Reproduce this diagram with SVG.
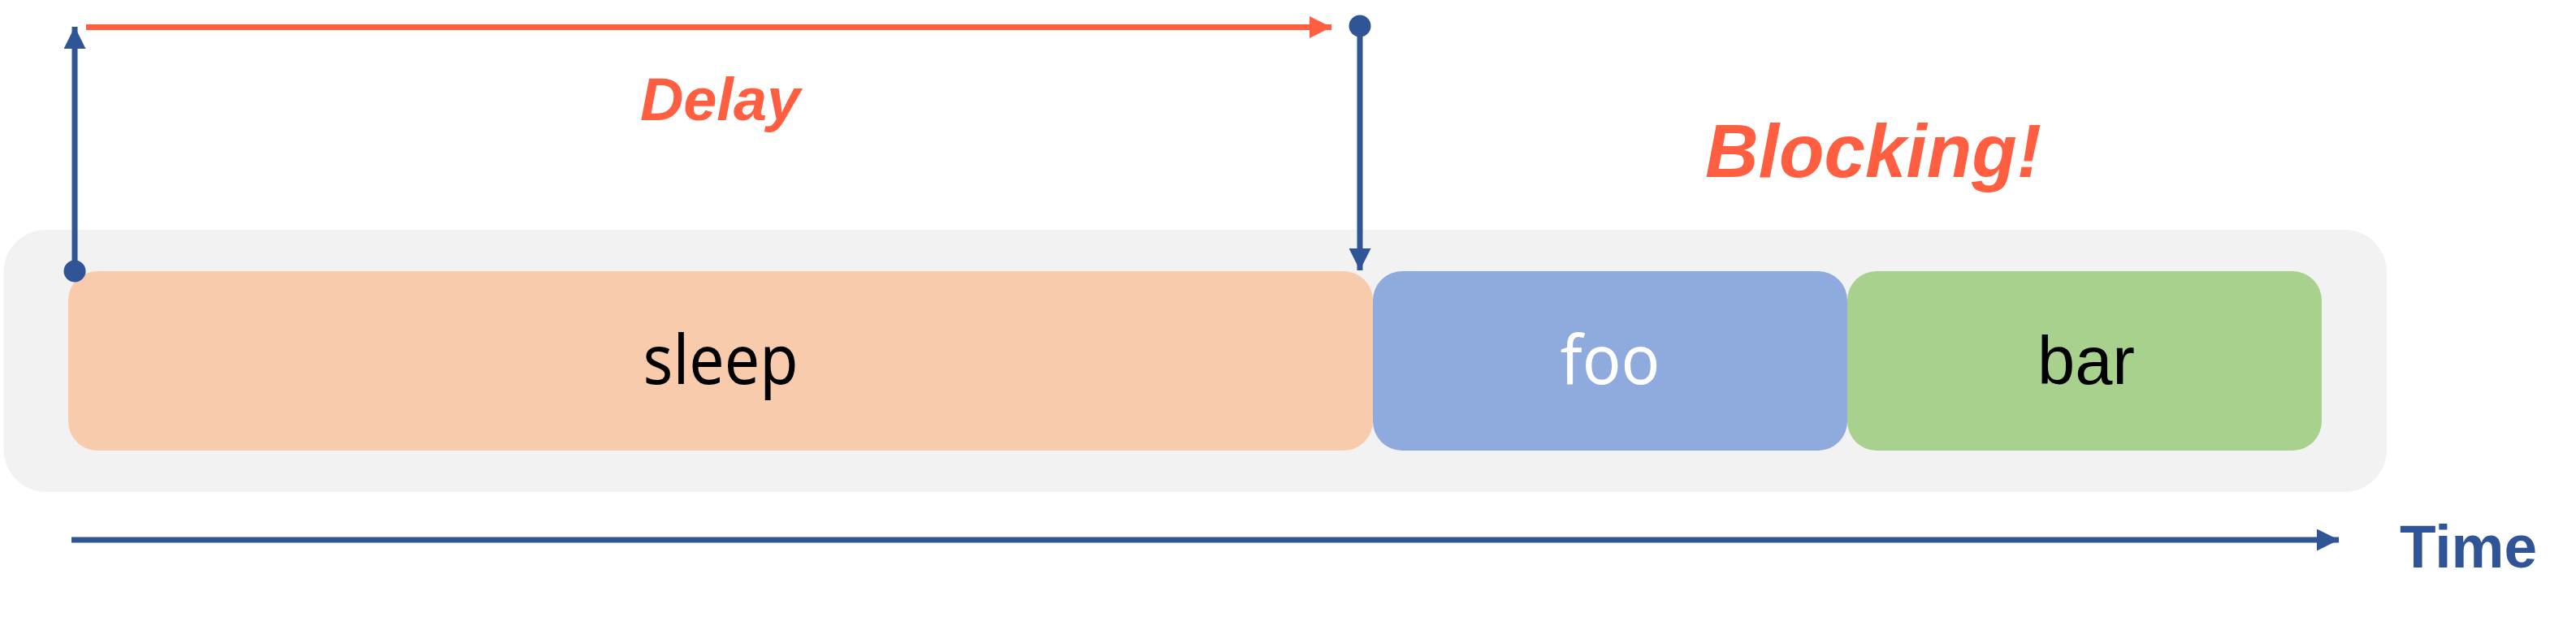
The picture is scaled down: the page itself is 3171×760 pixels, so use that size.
<svg xmlns="http://www.w3.org/2000/svg" width="3171" height="760" viewBox="0 0 3171 760">
<style>
.lbl{font-family:"Noto Sans","Open Sans","Liberation Sans",sans-serif;font-size:84px;text-anchor:middle}
.hl{font-family:"Liberation Sans",Arial,sans-serif;font-weight:bold;font-style:italic;fill:#FF5F40}
.blue{stroke:#2F5597;stroke-width:7;fill:none}
.red{stroke:#FF5F40;stroke-width:7;fill:none}
</style>
<defs>
<marker id="ab" markerUnits="userSpaceOnUse" markerWidth="27" markerHeight="27" viewBox="0 0 27 27" refX="27" refY="13.5" orient="auto"><path d="M0,0 L27,13.5 L0,27 Z" fill="#2F5597"/></marker>
<marker id="ar" markerUnits="userSpaceOnUse" markerWidth="27" markerHeight="27" viewBox="0 0 27 27" refX="27" refY="13.5" orient="auto"><path d="M0,0 L27,13.5 L0,27 Z" fill="#FF5F40"/></marker>
<marker id="dot" markerUnits="userSpaceOnUse" markerWidth="28" markerHeight="28" viewBox="0 0 28 28" refX="14" refY="14"><circle cx="14" cy="14" r="13.5" fill="#2F5597"/></marker>
</defs>
<rect width="3171" height="760" fill="#fff"/>
<g id="background"><rect x="4.5" y="283" width="2933.5" height="323" rx="52" fill="#F2F2F2"/></g>
<g id="sleep"><rect x="84" y="334" width="1606" height="221" rx="36" fill="#F8CBAD"/><text class="lbl" x="887" y="473" fill="#000" textLength="191" lengthAdjust="spacingAndGlyphs">sleep</text></g>
<g id="foo"><rect x="1690" y="334" width="584" height="221" rx="36" fill="#8FAADC"/><text class="lbl" x="1982" y="473" fill="#fff" textLength="123" lengthAdjust="spacingAndGlyphs">foo</text></g>
<g id="bar"><rect x="2274" y="334" width="584" height="221" rx="36" fill="#A9D18E"/><text class="lbl" x="2568" y="473" fill="#000" style="font-family:'Liberation Sans',Arial,sans-serif" textLength="120" lengthAdjust="spacingAndGlyphs">bar</text></g>
<g id="connectors">
<line class="blue" x1="92" y1="334" x2="92" y2="33" marker-start="url(#dot)" marker-end="url(#ab)"/>
<line class="red" x1="106" y1="33.5" x2="1639" y2="33.5" marker-end="url(#ar)"/>
<line class="blue" x1="1674" y1="32" x2="1674" y2="333" marker-start="url(#dot)" marker-end="url(#ab)"/>
<line class="blue" x1="88" y1="665" x2="2879" y2="665" marker-end="url(#ab)"/>
</g>
<g id="labels">
<text class="hl" x="788" y="148" font-size="74" textLength="197" lengthAdjust="spacingAndGlyphs">Delay</text>
<text class="hl" x="2099" y="218" font-size="92" textLength="414" lengthAdjust="spacingAndGlyphs">Blocking!</text>
<text x="2954" y="699" font-family="'Liberation Sans',Arial,sans-serif" font-weight="bold" font-size="74" fill="#2F5597" textLength="169" lengthAdjust="spacingAndGlyphs">Time</text>
</g>
</svg>
